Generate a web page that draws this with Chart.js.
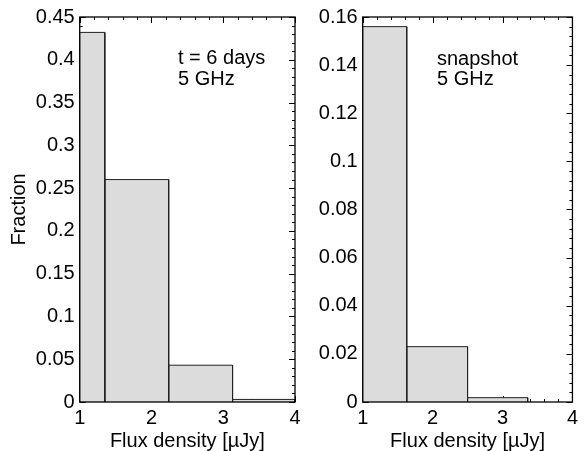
<!DOCTYPE html>
<html lang="en">
<head>
    <meta charset="UTF-8">
    <title>Flux density histograms</title>
    <style>
        body { margin: 0; background: #fff; }
        .panels { position: relative; width: 584px; height: 451px; }
        .panels canvas { position: absolute; left: 0; top: 0; }
    </style>
    <script src="https://cdn.jsdelivr.net/npm/chart.js"></script>
</head>
<body>
    <div class="panels">
        <canvas id="leftChart" width="584" height="451"></canvas>
        <canvas id="rightChart" width="584" height="451"></canvas>
    </div>

    <script>
        // Bin edges (flux density, µJy) and fraction per bin
        var xTicks = [1, 2, 3, 4];

        var leftEdges = [1, 1.35, 2.24, 3.13, 4];
        var leftFraction = [0.432, 0.26, 0.043, 0.003];
        var leftYTicks = [0, 0.05, 0.1, 0.15, 0.2, 0.25, 0.3, 0.35, 0.4, 0.45];

        var rightEdges = [1, 1.63, 2.5, 3.36];
        var rightFraction = [0.156, 0.023, 0.0018];
        var rightYTicks = [0, 0.02, 0.04, 0.06, 0.08, 0.1, 0.12, 0.14, 0.16];

        var FONT = 'Liberation Sans, Arial, Helvetica, sans-serif';

        // one closed outline per bin, filled down to zero
        function binDatasets(edges, values) {
            return values.map(function (v, i) {
                return {
                    data: [
                        { x: edges[i], y: 0 },
                        { x: edges[i], y: v },
                        { x: edges[i + 1], y: v },
                        { x: edges[i + 1], y: 0 }
                    ],
                    showLine: true,
                    fill: 'origin',
                    backgroundColor: '#dcdcdc',
                    borderColor: '#222',
                    borderWidth: 1,
                    pointRadius: 0,
                    tension: 0
                };
            });
        }

        // inward major/minor ticks on all sides (under the bars), box on top
        var framePlugin = {
            id: 'frame',
            beforeDatasetsDraw: function (chart, args, opts) {
                var ctx = chart.ctx, a = chart.chartArea;
                var x = chart.scales.x, y = chart.scales.y;
                ctx.save();
                ctx.strokeStyle = '#000';
                ctx.lineWidth = 1;
                ctx.beginPath();
                var v, px, len, major;
                for (v = x.min; v <= x.max + 1e-9; v += opts.xMinor) {
                    major = Math.abs(v - Math.round(v)) < 1e-6;
                    len = major ? 6 : 3;
                    px = Math.round(x.getPixelForValue(v)) + 0.5;
                    ctx.moveTo(px, a.bottom); ctx.lineTo(px, a.bottom - len);
                    ctx.moveTo(px, a.top); ctx.lineTo(px, a.top + len);
                }
                for (v = y.min; v <= y.max + 1e-9; v += opts.yMinor) {
                    major = Math.abs(v / opts.yMajor - Math.round(v / opts.yMajor)) < 1e-6;
                    len = major ? 6 : 3;
                    px = Math.round(y.getPixelForValue(v)) + 0.5;
                    ctx.moveTo(a.left, px); ctx.lineTo(a.left + len, px);
                    ctx.moveTo(a.right, px); ctx.lineTo(a.right - len, px);
                }
                ctx.stroke();
                ctx.restore();
            },
            afterDatasetsDraw: function (chart) {
                var ctx = chart.ctx, a = chart.chartArea;
                ctx.save();
                ctx.strokeStyle = '#000';
                ctx.lineWidth = 1.3;
                ctx.strokeRect(a.left, a.top, a.right - a.left, a.bottom - a.top);
                ctx.restore();
            }
        };

        // two-line label inside the plot
        var notePlugin = {
            id: 'note',
            afterDraw: function (chart, args, opts) {
                var ctx = chart.ctx;
                ctx.save();
                ctx.fillStyle = '#000';
                ctx.font = '20px ' + FONT;
                ctx.textAlign = 'left';
                ctx.textBaseline = 'alphabetic';
                opts.lines.forEach(function (t, i) {
                    ctx.fillText(t, opts.x, opts.y[i]);
                });
                ctx.restore();
            }
        };

        function makeOptions(cfg) {
            return {
                responsive: false,
                animation: false,
                events: [],
                layout: { padding: cfg.padding },
                plugins: {
                    legend: { display: false },
                    tooltip: { enabled: false },
                    frame: cfg.frame,
                    note: cfg.note
                },
                scales: {
                    x: {
                        type: 'linear',
                        min: 1,
                        max: 4,
                        afterBuildTicks: function (scale) {
                            scale.ticks = xTicks.map(function (v) { return { value: v }; });
                        },
                        afterFit: function (scale) { scale.height = 49; },
                        grid: { display: false, drawTicks: false },
                        border: { display: false },
                        ticks: {
                            color: '#000',
                            font: { family: FONT, size: 20, lineHeight: 1 },
                            padding: 6,
                            maxRotation: 0
                        },
                        title: {
                            display: true,
                            text: 'Flux density [µJy]',
                            color: '#000',
                            font: { family: FONT, size: 20, lineHeight: 1 },
                            padding: 0
                        }
                    },
                    y: {
                        type: 'linear',
                        min: 0,
                        max: cfg.yMax,
                        afterBuildTicks: function (scale) {
                            scale.ticks = cfg.yTicks.map(function (v) { return { value: v }; });
                        },
                        afterFit: function (scale) { scale.width = cfg.yWidth; },
                        grid: { display: false, drawTicks: false },
                        border: { display: false },
                        ticks: {
                            color: '#000',
                            font: { family: FONT, size: 20 },
                            padding: 5,
                            callback: function (v) { return String(v); }
                        },
                        title: {
                            display: cfg.yTitle !== '',
                            text: cfg.yTitle,
                            color: '#000',
                            font: { family: FONT, size: 20, lineHeight: 1 },
                            padding: { top: 9 }
                        }
                    }
                }
            };
        }

        new Chart(document.getElementById('leftChart').getContext('2d'), {
            type: 'scatter',
            data: { datasets: binDatasets(leftEdges, leftFraction) },
            options: makeOptions({
                padding: { top: 11, right: 289, left: 0, bottom: 0 },
                yMax: 0.45,
                yTicks: leftYTicks,
                yWidth: 79.7,
                yTitle: 'Fraction',
                frame: { xMinor: 0.2, yMinor: 0.01, yMajor: 0.05 },
                note: { lines: ['t = 6 days', '5 GHz'], x: 178, y: [64, 84.5] }
            }),
            plugins: [framePlugin, notePlugin]
        });

        new Chart(document.getElementById('rightChart').getContext('2d'), {
            type: 'scatter',
            data: { datasets: binDatasets(rightEdges, rightFraction) },
            options: makeOptions({
                padding: { top: 10, right: 5.7, left: 300, bottom: 0 },
                yMax: 0.16,
                yTicks: rightYTicks,
                yWidth: 62.7,
                yTitle: '',
                frame: { xMinor: 0.2, yMinor: 0.004, yMajor: 0.02 },
                note: { lines: ['snapshot', '5 GHz'], x: 437, y: [65, 85] }
            }),
            plugins: [framePlugin, notePlugin]
        });
    </script>
</body>
</html>
